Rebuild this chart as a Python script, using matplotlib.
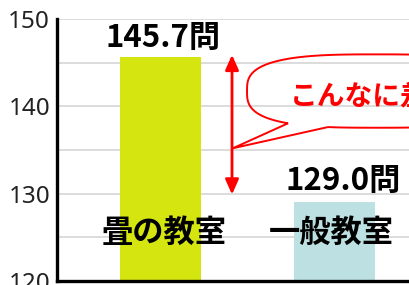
import numpy as np
import matplotlib
matplotlib.use("Agg")
import matplotlib.pyplot as plt
from matplotlib.patches import Polygon

categories = ["畳の教室", "一般教室"]
values = [145.7, 129.0]
value_labels = ["145.7問", "129.0問"]
bar_colors = ["#d4e510", "#bde0e3"]
yticks = [120, 130, 140, 150]
callout_text = "こんなに差が！"

plt.rcParams['font.family'] = ['Noto Sans CJK JP', 'DejaVu Sans']

fig = plt.figure(figsize=(4.10, 2.85), dpi=100)
ax = fig.add_axes([57/410, 4/285, 1 - 57/410, 262/285])

x = np.arange(len(categories))
ax.bar(x, values, width=0.464, color=bar_colors, zorder=2)
ax.set_xlim(-0.593, 1.43)
ax.set_ylim(120, 150)

# grid every 5
for g in np.arange(125, 151, 5):
    ax.axhline(g, color="#d6d6d6", lw=1.2, zorder=0)

ax.set_yticks(yticks)
ax.set_yticklabels([str(t) for t in yticks], fontsize=17.5, color="#222222",
                   family=["Noto Sans", "DejaVu Sans"])
ax.tick_params(axis='y', length=0, pad=5)
ax.set_xticks([])
for s in ["top", "right"]:
    ax.spines[s].set_visible(False)
ax.spines["left"].set_linewidth(2.4)
ax.spines["bottom"].set_linewidth(2.4)
ax.spines["left"].set_zorder(5)
ax.spines["bottom"].set_zorder(5)

# value labels
label_offsets = [(2, 2), (6, 4)]
for xi, v, lab, off in zip(x, values, value_labels, label_offsets):
    ax.annotate(lab, (xi, v), xytext=off, textcoords="offset points",
                ha="center", va="bottom", fontsize=22.5, fontweight="bold",
                color="black", zorder=6)

# category labels inside bars
for xi, c, dx in zip(x, categories, [0.02, -0.02]):
    ax.text(xi + dx, 125.5, c, ha="center", va="center", fontsize=22.5,
            fontweight="bold", color="black", zorder=6)

# double-headed arrow
ax.annotate("", xy=(0.41, values[0] + 0.2), xytext=(0.41, 129.9),
            arrowprops=dict(arrowstyle="<|-|>,head_length=0.9,head_width=0.4",
                            color="#ff0000", lw=2, shrinkA=0, shrinkB=0),
            zorder=6)

# callout bubble (superellipse with tail)
cx, cy, A, B, n = 1.241, 141.75, 0.745, 4.2, 3.0
tail_tip = (0.415, 135.2)
base_x = (0.731, 0.96)


def se_point(t):
    c, s = np.cos(t), np.sin(t)
    return (cx + A * np.sign(c) * np.abs(c) ** (2 / n),
            cy + B * np.sign(s) * np.abs(s) ** (2 / n))


def t_for_x(xv):
    # lower half: t in (pi, 2pi)
    u = (xv - cx) / A
    c = np.sign(u) * np.abs(u) ** (n / 2)
    return 2 * np.pi - np.arccos(c)


ta = t_for_x(base_x[0])
tb = t_for_x(base_x[1])
ts = np.linspace(tb, ta + 2 * np.pi, 800)
pts = [se_point(t) for t in ts]
pts.append(tail_tip)
bubble = Polygon(pts, closed=True, fill=False, edgecolor="#ff0000", lw=1.4,
                 zorder=4, joinstyle="miter")
ax.add_patch(bubble)
ax.text(0.74, 141.1, callout_text, ha="left", va="center", fontsize=20,
        fontweight="bold", color="#ff0000", zorder=6)

fig.savefig("out.png", dpi=100)
